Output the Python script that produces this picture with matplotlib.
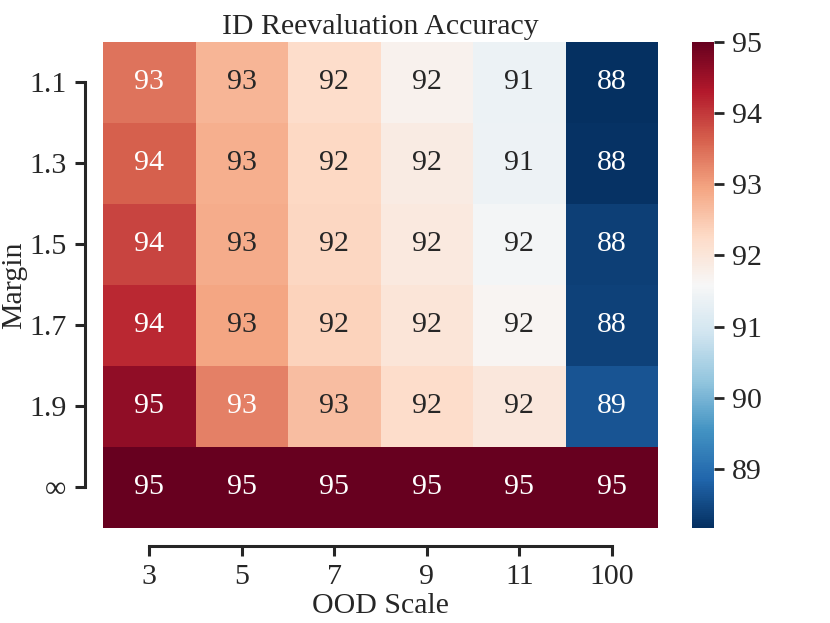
import numpy as np
import pandas as pd
import matplotlib
matplotlib.use('Agg')
import matplotlib.pyplot as plt
import seaborn as sns

ood_scales = ['3', '5', '7', '9', '11', '100']
margins = ['1.1', '1.3', '1.5', '1.7', '1.9', '∞']
acc_m11 = [93.45, 92.75, 92.20, 91.72, 91.38, 88.17]
acc_m13 = [93.62, 92.82, 92.30, 91.86, 91.41, 88.20]
acc_m15 = [93.90, 92.85, 92.33, 91.93, 91.52, 88.37]
acc_m17 = [94.15, 92.92, 92.37, 92.03, 91.65, 88.40]
acc_m19 = [94.60, 93.30, 92.64, 92.20, 91.96, 88.65]
acc_minf = [95.00, 95.00, 95.00, 95.00, 95.00, 95.00]

df = pd.DataFrame([acc_m11, acc_m13, acc_m15, acc_m17, acc_m19, acc_minf],
                  index=margins, columns=ood_scales)

sns.set_theme(style='ticks')
plt.rcParams['font.family'] = ['Liberation Serif', 'DejaVu Serif']
FS = 21.5

fig = plt.figure(figsize=(8.3, 6.23), dpi=100)
ax = fig.add_axes([0.1241, 0.1525, 0.6687, 0.7801])
cax = fig.add_axes([0.8337, 0.1525, 0.0265, 0.7801])

sns.heatmap(df, ax=ax, cbar_ax=cax, cmap='RdBu_r', annot=True, fmt='.0f',
            annot_kws={'size': FS})

sns.despine(ax=ax, offset=13, trim=True)
for s in ['left', 'bottom']:
    ax.spines[s].set_linewidth(2.2)
    ax.spines[s].set_color('.15')
ax.tick_params(axis='both', length=7.2, width=2.2, color='.15', labelsize=FS, pad=6)
ax.set_yticklabels(margins, rotation=0)
ax.set_xticklabels(ood_scales, rotation=0)
ax.set_xlabel('OOD Scale', fontsize=FS)
ax.set_ylabel('Margin', fontsize=FS)
ax.yaxis.set_label_coords(-0.137, 0.5)
ax.xaxis.set_label_coords(0.5, -0.134)
ax.set_title('ID Reevaluation Accuracy', fontsize=FS, pad=6)

cax.tick_params(length=7.2, width=2.0, color='.15', labelsize=FS, pad=6)

fig.savefig('out.png', dpi=100)
